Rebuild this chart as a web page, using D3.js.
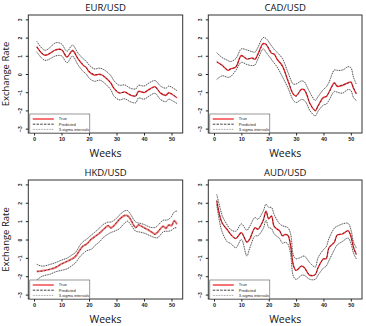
<!DOCTYPE html>
<html lang="en">
<head>
<meta charset="UTF-8">
<title>Exchange rate predictions</title>
<script src="https://cdn.jsdelivr.net/npm/d3@7"></script>
<style>
  body { margin: 0; background: #fff; }
  svg { display: block; font-family: "Open Sans", sans-serif; }
</style>
</head>
<body>
<svg id="chart" width="366" height="326"></svg>
<script>
// values (weeks on x, standardised rate on y)
const eurWeeks = [1,4,8,10,12,14,16,18,19,20,22,24,26,28,29,31,33,35,37,38,40,42,44,46,48,49,50,52];
const eurTrue  = [1.50,1.02,1.34,1.33,0.93,1.29,0.83,0.46,0.36,0.12,-0.06,-0.01,-0.20,-0.50,-0.78,-1.05,-0.98,-1.16,-1.20,-0.95,-1.02,-0.83,-0.70,-1.05,-1.16,-1.02,-1.10,-1.30];
const eurPred  = [1.48,1.05,1.31,1.35,0.96,1.26,0.86,0.49,0.33,0.15,-0.03,-0.04,-0.17,-0.53,-0.75,-1.02,-1.01,-1.13,-1.22,-0.98,-0.99,-0.86,-0.73,-1.02,-1.19,-1.05,-1.07,-1.33];
const eurUpper = [1.80,1.30,1.72,1.65,1.25,1.58,1.15,0.82,0.70,0.50,0.28,0.32,0.18,-0.10,-0.35,-0.62,-0.60,-0.78,-0.82,-0.62,-0.66,-0.48,-0.36,-0.66,-0.78,-0.66,-0.72,-0.92];
const eurLower = [1.22,0.75,1.00,1.00,0.62,0.98,0.50,0.12,0.00,-0.22,-0.40,-0.34,-0.55,-0.88,-1.20,-1.42,-1.36,-1.52,-1.58,-1.32,-1.38,-1.20,-1.06,-1.40,-1.52,-1.38,-1.44,-1.62];

const cadWeeks = [1,3,5,6,8,10,12,14,15,16,18,19,21,22,23,25,27,29,30,32,33,34,35,37,38,40,41,42,44,45,47,49,50,51,52];
const cadTrue  = [0.66,0.48,0.20,0.28,0.38,1.02,0.82,0.88,0.80,1.08,1.68,1.62,1.14,1.10,0.82,0.45,-0.37,-1.12,-1.20,-0.83,-0.88,-1.18,-1.60,-2.02,-1.75,-1.28,-1.25,-1.00,-0.48,-0.68,-0.62,-0.48,-0.45,-0.80,-1.10];
const cadPred  = [0.70,0.45,0.24,0.25,0.42,0.98,0.85,0.84,0.83,1.05,1.64,1.65,1.18,1.06,0.86,0.41,-0.33,-1.08,-1.23,-0.86,-0.85,-1.14,-1.63,-1.98,-1.78,-1.31,-1.22,-1.03,-0.52,-0.65,-0.59,-0.51,-0.42,-0.76,-1.06];
const cadUpper = [1.17,0.90,0.75,0.68,0.85,1.38,1.32,1.22,1.20,1.45,2.00,1.95,1.55,1.35,1.20,0.85,0.10,-0.55,-0.55,-0.38,-0.43,-0.70,-1.00,-1.45,-1.25,-0.85,-0.72,-0.46,0.22,0.20,0.22,0.40,0.35,-0.20,-0.55];
const cadLower = [-0.30,-0.10,-0.18,-0.15,0.20,0.64,0.52,0.46,0.50,0.80,1.38,1.20,0.80,0.60,0.40,-0.15,-0.75,-1.45,-1.57,-1.40,-1.45,-1.66,-2.00,-2.30,-2.05,-1.70,-1.66,-1.45,-0.95,-1.00,-1.05,-0.85,-0.90,-1.30,-1.45];

const hkdWeeks = [1,3,6,8,10,12,14,15,17,18,19,21,22,24,25,27,28,30,31,33,34,35,37,38,40,42,44,45,47,48,49,50,51,52];
const hkdTrue  = [-1.75,-1.70,-1.62,-1.52,-1.32,-1.20,-1.04,-0.94,-0.50,-0.34,-0.26,0.03,0.15,0.36,0.52,0.74,0.64,0.90,1.10,1.30,1.30,1.12,0.66,0.78,0.65,0.48,0.30,0.40,0.73,0.60,0.80,0.75,1.02,0.82];
const hkdPred  = [-1.72,-1.73,-1.60,-1.49,-1.35,-1.18,-1.07,-0.91,-0.53,-0.31,-0.29,0.06,0.12,0.39,0.49,0.77,0.61,0.93,1.07,1.33,1.27,1.15,0.63,0.81,0.62,0.51,0.27,0.43,0.70,0.63,0.77,0.78,0.99,0.85];
const hkdUpper = [-1.35,-1.45,-1.35,-1.25,-1.12,-1.02,-0.82,-0.72,-0.25,-0.10,0.00,0.26,0.38,0.65,0.80,0.95,0.95,1.15,1.32,1.56,1.58,1.40,0.95,0.90,0.82,0.68,0.65,0.76,1.05,1.05,1.10,1.25,1.50,1.55];
const hkdLower = [-2.20,-2.00,-1.88,-1.75,-1.68,-1.60,-1.40,-1.28,-0.88,-0.75,-0.62,-0.52,-0.35,-0.10,0.08,0.30,0.38,0.50,0.58,0.90,1.00,0.85,0.45,0.42,0.35,0.22,0.10,0.10,0.42,0.45,0.45,0.50,0.62,0.65];

const audWeeks = [1,2,3,5,6,8,10,12,13,15,16,18,19,20,21,22,24,25,26,27,28,29,30,32,33,35,37,38,40,41,42,44,45,47,49,50,51,52];
const audTrue  = [2.10,1.35,0.90,0.50,0.30,0.05,0.38,-0.15,0.00,0.65,0.55,1.05,1.55,1.12,1.28,0.70,0.47,0.20,0.28,0.22,-0.35,-1.40,-1.68,-1.45,-1.52,-1.95,-1.90,-1.55,-1.05,-1.05,-0.45,-0.15,0.25,0.30,0.48,0.18,-0.45,-0.80];
const audPred  = [2.14,1.38,0.87,0.53,0.27,0.08,0.35,-0.12,0.03,0.62,0.58,1.02,1.52,1.15,1.25,0.73,0.44,0.23,0.25,0.25,-0.32,-1.37,-1.71,-1.42,-1.55,-1.92,-1.93,-1.52,-1.08,-1.02,-0.48,-0.12,0.22,0.33,0.45,0.21,-0.42,-0.83];
const audUpper = [2.45,1.85,1.30,0.75,0.55,0.45,0.85,0.50,0.70,1.20,1.10,1.55,1.92,1.75,1.75,1.35,0.85,0.75,0.70,0.65,0.30,-0.85,-1.05,-0.95,-0.90,-1.26,-1.50,-1.00,-0.55,-0.40,0.05,0.62,0.72,0.85,0.88,0.55,-0.15,-0.45];
const audLower = [1.90,1.00,0.40,-0.15,-0.20,-0.45,0.00,-0.90,-0.50,0.20,0.20,0.60,1.05,0.65,0.60,0.30,0.05,-0.20,-0.15,-0.25,-0.80,-2.00,-2.17,-1.95,-1.95,-2.17,-2.17,-1.95,-1.55,-1.45,-1.15,-0.55,-0.30,-0.10,0.08,-0.20,-0.75,-1.05];

const xTicks = [0,10,20,30,40,50];
const yTicks = [3,2,1,0,-1,-2,-3];
const legendLabels = ["True", "Predicted", "3-sigma intervals"];

const panels = [
  { title: "EUR/USD", weeks: eurWeeks, tr: eurTrue, pr: eurPred, up: eurUpper, lo: eurLower,
    x0: 28.3, x1: 182.7, y0: 15, y1: 133, ylab: true, trueCol: "#f0282d", trueW: 1.3 },
  { title: "CAD/USD", weeks: cadWeeks, tr: cadTrue, pr: cadPred, up: cadUpper, lo: cadLower,
    x0: 208.3, x1: 362, y0: 15, y1: 133, ylab: false, trueCol: "#f0282d", trueW: 1.3 },
  { title: "HKD/USD", weeks: hkdWeeks, tr: hkdTrue, pr: hkdPred, up: hkdUpper, lo: hkdLower,
    x0: 28.3, x1: 182.7, y0: 180, y1: 299, ylab: true, trueCol: "#f46a6a", trueW: 1.8 },
  { title: "AUD/USD", weeks: audWeeks, tr: audTrue, pr: audPred, up: audUpper, lo: audLower,
    x0: 208.3, x1: 362, y0: 180, y1: 299, ylab: false, trueCol: "#f0282d", trueW: 1.3 }
];

const svg = d3.select("#chart");

panels.forEach(p => {
  const x = d3.scaleLinear().domain([-2.08, 54.08]).range([p.x0, p.x1]);
  const y = d3.scaleLinear().domain([-3.24, 3.24]).range([p.y1, p.y0]);
  const g = svg.append("g");

  const line = vals => d3.line()
    .x((d, i) => x(p.weeks[i]))
    .y(d => y(d))
    .curve(d3.curveCatmullRom.alpha(0.5))(vals);

  // interval bounds: light grey under a dark dotted line
  [p.up, p.lo].forEach(b => {
    g.append("path").attr("d", line(b)).attr("fill", "none")
      .attr("stroke", "#bdbdbd").attr("stroke-width", 0.9);
    g.append("path").attr("d", line(b)).attr("fill", "none")
      .attr("stroke", "#333").attr("stroke-width", 0.8).attr("stroke-dasharray", "1,1.4");
  });

  g.append("path").attr("d", line(p.tr)).attr("fill", "none")
    .attr("stroke", p.trueCol).attr("stroke-width", p.trueW);
  g.append("path").attr("d", line(p.pr)).attr("fill", "none")
    .attr("stroke", "#111").attr("stroke-width", 0.6).attr("stroke-dasharray", "2,1.8");

  // box
  g.append("rect").attr("x", p.x0).attr("y", p.y0)
    .attr("width", p.x1 - p.x0).attr("height", p.y1 - p.y0)
    .attr("fill", "none").attr("stroke", "#333").attr("stroke-width", 1);

  // x axis
  const xa = g.append("g").attr("transform", `translate(0,${p.y1})`)
    .call(d3.axisBottom(x).tickValues(xTicks).tickSize(2.5).tickPadding(2));
  xa.select(".domain").remove();
  xa.selectAll("line").attr("stroke", "#222");
  xa.selectAll("text").attr("font-size", 5.5).attr("font-family", "Liberation Sans, sans-serif")
    .attr("font-weight", "bold").attr("fill", "#222");

  // y axis, labels parallel to axis
  const ya = g.append("g").attr("transform", `translate(${p.x0},0)`)
    .call(d3.axisLeft(y).tickValues(yTicks).tickSize(2.5).tickFormat(d3.format("d")));
  ya.select(".domain").remove();
  ya.selectAll("line").attr("stroke", "#222");
  ya.selectAll("text")
    .attr("x", 0).attr("dy", null)
    .attr("transform", "translate(-6,0) rotate(-90)")
    .attr("text-anchor", "middle")
    .attr("font-size", 5).attr("font-family", "Liberation Sans, sans-serif")
    .attr("font-weight", "bold").attr("fill", "#222");

  // titles
  g.append("text").attr("x", (p.x0 + p.x1) / 2).attr("y", p.y0 - 4.5)
    .attr("text-anchor", "middle").attr("font-size", 9.5).attr("fill", "#111").text(p.title);
  g.append("text").attr("x", (p.x0 + p.x1) / 2).attr("y", p.y1 + 24)
    .attr("text-anchor", "middle").attr("font-size", 10.5).attr("fill", "#111").text("Weeks");
  if (p.ylab) {
    g.append("text").attr("transform", `translate(9,${(p.y0 + p.y1) / 2}) rotate(-90)`)
      .attr("text-anchor", "middle").attr("font-size", 9.5).attr("fill", "#111").text("Exchange Rate");
  }

  // legend bottom-left
  const lx = p.x0 + 1.5, ly = p.y1 - 19;
  const lg = g.append("g").attr("transform", `translate(${lx},${ly})`);
  lg.append("rect").attr("width", 60).attr("height", 19)
    .attr("fill", "#fff").attr("stroke", "#555").attr("stroke-width", 0.6);
  const styles = [
    { col: p.trueCol, w: p.trueW, dash: null },
    { col: "#111", w: 0.8, dash: "2.5,1.2" },
    { col: "#666", w: 0.7, dash: "0.8,0.8" }
  ];
  legendLabels.forEach((lab, i) => {
    const yy = 5 + i * 5.2;
    lg.append("line").attr("x1", 3).attr("x2", 24).attr("y1", yy).attr("y2", yy)
      .attr("stroke", styles[i].col).attr("stroke-width", styles[i].w)
      .attr("stroke-dasharray", styles[i].dash);
    lg.append("text").attr("x", 29).attr("y", yy + 1.4)
      .attr("font-size", 4).attr("font-family", "Liberation Sans, sans-serif")
      .attr("fill", "#222").text(lab);
  });
});
</script>
</body>
</html>
